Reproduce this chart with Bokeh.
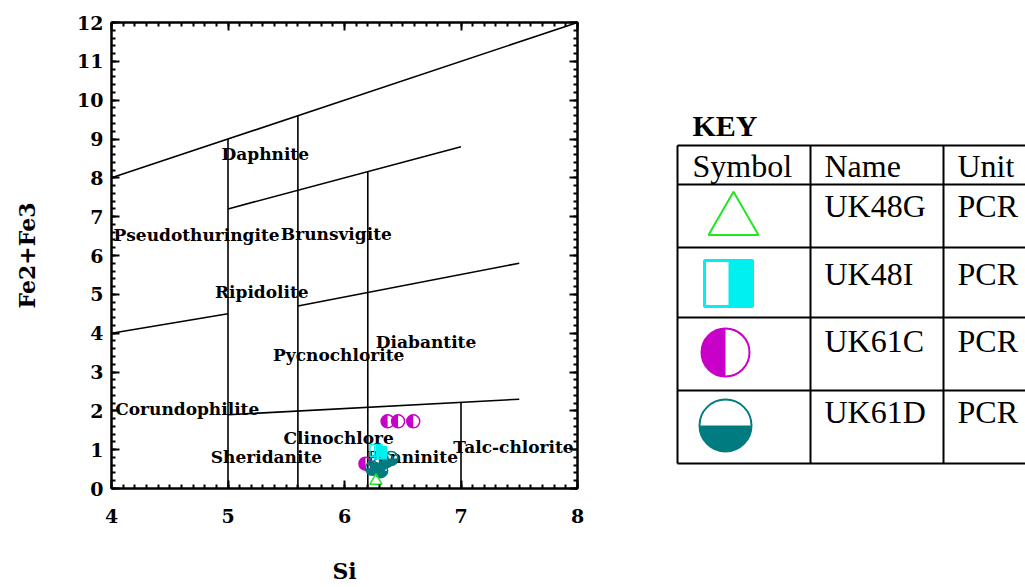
import math
from bokeh.plotting import figure
from bokeh.models import (Range1d, LinearAxis, SingleIntervalTicker, ColumnDataSource)
from bokeh.layouts import row
from bokeh.core.properties import value
from bokeh.transform import dodge
from bokeh.embed import file_html
from bokeh.resources import INLINE

# ---------------- data ----------------
# Hey (1954) chlorite classification boundaries: x0, y0, x1, y1
bnd_x0 = [4.0, 5.0, 5.6, 6.2, 5.0, 4.0, 5.6, 5.0, 7.0]
bnd_y0 = [8.0, 0.0, 0.0, 0.0, 7.2, 4.0, 4.7, 1.9, 0.0]
bnd_x1 = [8.0, 5.0, 5.6, 6.2, 7.0, 5.0, 7.5, 7.5, 7.0]
bnd_y1 = [12.0, 9.0, 9.6, 8.16, 8.8, 4.5, 5.8, 2.3, 2.22]

field_names = ["Daphnite", "Pseudothuringite", "Brunsvigite", "Ripidolite",
               "Diabantite", "Pycnochlorite", "Corundophilite", "Clinochlore",
               "Sheridanite", "Talc-chlorite", "Penninite"]
field_x = [5.32, 4.73, 5.93, 5.29, 6.70, 5.95, 4.65, 5.95, 5.33, 7.45, 6.58]
field_y = [8.62, 6.52, 6.55, 5.05, 3.76, 3.43, 2.04, 1.31, 0.80, 1.06, 0.82]

# samples
uk48g_si = [6.27]
uk48g_fe = [0.20]
uk48i_si = [6.27, 6.31]
uk48i_fe = [0.98, 0.92]
uk61c_si = [6.37, 6.46, 6.59, 6.18]
uk61c_fe = [1.73, 1.73, 1.73, 0.64]
uk61d_si = [6.24, 6.27, 6.31, 6.36, 6.40, 6.30]
uk61d_fe = [0.52, 0.67, 0.46, 0.72, 0.77, 0.60]

key_names = ["UK48G", "UK48I", "UK61C", "UK61D"]
key_units = ["PCR", "PCR", "PCR", "PCR"]

GREEN = "#22e622"
CYAN = "#00f0f0"
MAGENTA = "#c800c8"
TEAL = "#007c80"

AXFONT = "DejaVu Serif"
TBLFONT = "Liberation Serif"

# ---------------- main plot ----------------
W, H = 640, 587
BT, BB = 22, 99
p = figure(width=W, height=H, x_range=Range1d(4, 8), y_range=Range1d(0, 12),
           output_backend="svg", toolbar_location=None,
           x_axis_label="Si", y_axis_label="Fe2+Fe3",
           min_border_left=111, min_border_right=63, min_border_top=BT,
           min_border_bottom=BB)
p.xgrid.visible = False
p.ygrid.visible = False
p.outline_line_color = "black"
p.outline_line_width = 2
p.background_fill_color = "white"
p.border_fill_color = "white"

def style_axis(ax, ticker, show_labels):
    ax.ticker = ticker
    ax.axis_line_width = 2
    ax.axis_line_color = "black"
    ax.major_tick_in = 8
    ax.major_tick_out = 0
    ax.minor_tick_in = 4
    ax.minor_tick_out = 0
    ax.major_tick_line_width = 2
    ax.minor_tick_line_width = 2
    ax.major_tick_line_color = "black"
    ax.minor_tick_line_color = "black"
    ax.major_label_text_font = AXFONT
    ax.major_label_text_font_style = "bold"
    ax.major_label_text_font_size = "19px"
    ax.major_label_text_color = "black"
    ax.axis_label_text_font = AXFONT
    ax.axis_label_text_font_style = "bold"
    ax.axis_label_text_font_size = "22px"
    ax.axis_label_text_color = "black"
    if not show_labels:
        ax.major_label_overrides = {t: "" for t in range(0, 13)}
        ax.major_label_standoff = 0

style_axis(p.xaxis[0], SingleIntervalTicker(interval=1, num_minor_ticks=10), True)
style_axis(p.yaxis[0], SingleIntervalTicker(interval=1, num_minor_ticks=5), True)
p.xaxis[0].major_label_standoff = 20
p.xaxis[0].axis_label_standoff = 32
p.yaxis[0].major_label_standoff = 8
p.yaxis[0].axis_label_standoff = 34

top = LinearAxis()
style_axis(top, SingleIntervalTicker(interval=1, num_minor_ticks=10), False)
p.add_layout(top, "above")
right = LinearAxis()
style_axis(right, SingleIntervalTicker(interval=1, num_minor_ticks=5), False)
p.add_layout(right, "right")

# boundaries
p.segment(x0=bnd_x0, y0=bnd_y0, x1=bnd_x1, y1=bnd_y1, line_color="black", line_width=1.6)

# field names
p.text(x=field_x, y=field_y, text=field_names, text_font=value(AXFONT),
       text_font_style="bold", text_font_size="17px", text_align="center",
       text_baseline="middle", text_color="black")

# UK61C : left-half filled magenta circles
p.wedge(x=uk61c_si, y=uk61c_fe, radius=6.5, radius_units="screen",
        start_angle=math.pi / 2, end_angle=3 * math.pi / 2,
        fill_color=MAGENTA, line_color=None)
p.scatter(x=uk61c_si, y=uk61c_fe, marker="circle", size=13, fill_color=None,
          line_color=MAGENTA, line_width=1.5)

# UK61D : bottom-half filled teal circles
p.wedge(x=uk61d_si, y=uk61d_fe, radius=7, radius_units="screen",
        start_angle=math.pi, end_angle=2 * math.pi,
        fill_color=TEAL, line_color=None)
p.scatter(x=uk61d_si, y=uk61d_fe, marker="circle", size=14, fill_color=None,
          line_color=TEAL, line_width=1.5)

# UK48I : right-half filled cyan squares
src_i = ColumnDataSource(dict(si=uk48i_si, fe=uk48i_fe))
p.rect(x=dodge("si", 0.026, range=p.x_range), y="fe", width=6, height=12,
       width_units="screen", height_units="screen", source=src_i,
       fill_color=CYAN, line_color=None)
p.scatter(x="si", y="fe", source=src_i, marker="square", size=12,
          fill_color=None, line_color=CYAN, line_width=1.5)

# UK48G : open green triangles
p.scatter(x=uk48g_si, y=uk48g_fe, marker="triangle", size=12,
          fill_color=None, line_color=GREEN, line_width=1.5)

# ---------------- key table ----------------
# Row layout aligns the frames, so this figure's frame spans the same pixel rows
# as the main plot's frame; ranges are set so 1 data unit = 1 pixel.
KW = 1025 - W
q = figure(width=KW, height=H, x_range=Range1d(W, 1025), y_range=Range1d(BB, H - BT),
           output_backend="svg", toolbar_location=None,
           x_axis_type=None, y_axis_type=None, min_border_left=0,
           min_border_right=0, min_border_top=BT, min_border_bottom=BB)
q.xgrid.visible = False
q.ygrid.visible = False
q.outline_line_color = None
q.background_fill_color = "white"
q.border_fill_color = "white"

def Y(v):
    return H - v

col_x = [677, 810, 943]
row_y = [145, 184, 247, 317, 390, 463]
q.segment(x0=col_x, y0=[Y(row_y[0])] * 3, x1=col_x, y1=[Y(row_y[-1])] * 3,
          line_color="black", line_width=2)
q.segment(x0=[col_x[0]] * len(row_y), y0=[Y(v) for v in row_y],
          x1=[1025] * len(row_y), y1=[Y(v) for v in row_y],
          line_color="black", line_width=2)

q.text(x=[692], y=[Y(125)], text=["KEY"], text_font=value(TBLFONT),
       text_font_style="bold", text_font_size="30px", text_baseline="middle",
       text_color="black")
q.text(x=[692, 824, 957], y=[Y(165)] * 3, text=["Symbol", "Name", "Unit"],
       text_font=value(TBLFONT), text_font_size="32px", text_baseline="middle",
       text_color="black")
mid_y = [205, 273, 340, 411]
q.text(x=[824] * 4, y=[Y(v) for v in mid_y], text=key_names,
       text_font=value(TBLFONT), text_font_size="32px", text_baseline="middle",
       text_color="black")
q.text(x=[957] * 4, y=[Y(v) for v in mid_y], text=key_units,
       text_font=value(TBLFONT), text_font_size="32px", text_baseline="middle",
       text_color="black")

# key symbols
q.scatter(x=[733], y=[Y(220)], marker="triangle", size=50, fill_color=None,
          line_color=GREEN, line_width=2)
q.rect(x=[740.5], y=[Y(283)], width=25, height=46, fill_color=CYAN, line_color=None)
q.rect(x=[728], y=[Y(283)], width=48, height=46, fill_color=None,
       line_color=CYAN, line_width=3)
q.wedge(x=[725], y=[Y(352)], radius=24, start_angle=math.pi / 2,
        end_angle=3 * math.pi / 2, fill_color=MAGENTA, line_color=None)
q.circle(x=[725], y=[Y(352)], radius=24, fill_color=None, line_color=MAGENTA,
         line_width=2)
q.wedge(x=[725], y=[Y(425)], radius=26, start_angle=math.pi,
        end_angle=math.pi * 2, fill_color=TEAL, line_color=None)
q.circle(x=[725], y=[Y(425)], radius=26, fill_color=None, line_color=TEAL,
         line_width=2)

layout = row(p, q)
open("out.html", "w").write(file_html(layout, INLINE))
